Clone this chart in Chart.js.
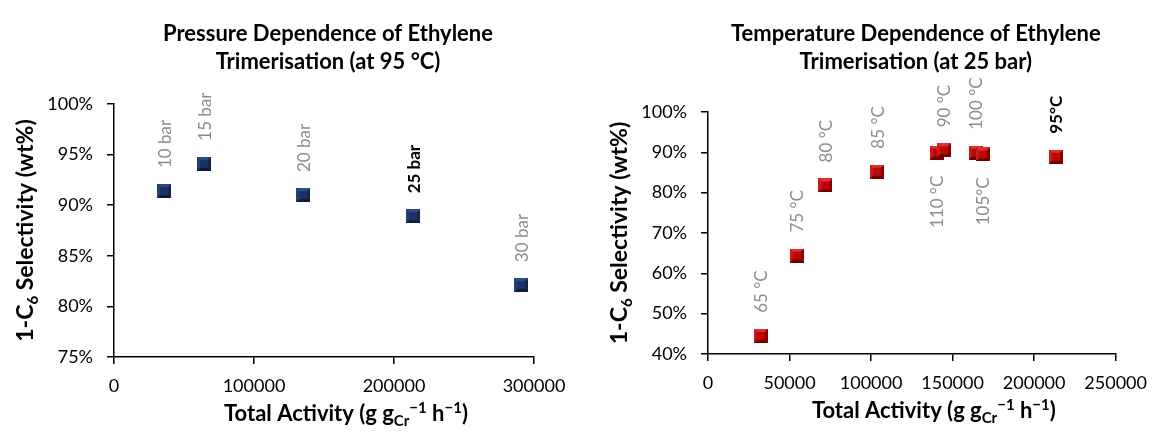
<!DOCTYPE html>
<html>
<head>
<meta charset="utf-8">
<script src="https://cdn.jsdelivr.net/npm/chart.js@4.4.1/dist/chart.umd.min.js"></script>
<style>
  html, body { margin: 0; padding: 0; background: #fff; }
  #wrap { position: relative; width: 1158px; height: 434px; }
  #wrap canvas { position: absolute; top: 0; }
  #pressure { left: 0; }
  #temperature { left: 579px; }
</style>
</head>
<body>
<div id="wrap">
  <canvas id="pressure" width="579" height="434"></canvas>
  <canvas id="temperature" width="579" height="434"></canvas>
</div>
<script>
// left chart: pressure series (95 °C)
const pressureLabels = ['10 bar', '15 bar', '20 bar', '25 bar', '30 bar'];
const pressureActivity = [35900, 64300, 135200, 213800, 291000];
const pressureSelectivity = [91.4, 94.1, 91.0, 88.9, 82.1];
const pressureBold = [false, false, false, true, false];
const pressureBelow = [false, false, false, false, false];

// right chart: temperature series (25 bar)
const tempLabels = ['65 °C', '75 °C', '80 °C', '85 °C', '110 °C', '90 °C', '100 °C', '105°C', '95°C'];
const tempActivity = [32400, 54400, 72000, 103800, 140400, 144600, 164200, 168600, 213400];
const tempSelectivity = [44.5, 64.4, 81.8, 85.2, 89.9, 90.5, 89.9, 89.5, 88.9];
const tempBold = [false, false, false, false, false, false, false, false, true];
const tempBelow = [false, false, false, false, true, false, false, true, false];

const FONT = 'Lato';

// square marker with a pyramid bevel, like the Excel one
function bevelSquare(c) {
    const s = 14, m = s / 2;
    const cv = document.createElement('canvas');
    cv.width = s; cv.height = s;
    const g = cv.getContext('2d');
    g.fillStyle = c.base;
    g.fillRect(0, 0, s, s);
    const tri = (ax, ay, bx, by, col) => {
        g.beginPath();
        g.moveTo(ax, ay); g.lineTo(bx, by); g.lineTo(m, m);
        g.closePath();
        g.fillStyle = col;
        g.fill();
    };
    tri(0, 0, s, 0, c.top);
    tri(0, 0, 0, s, c.left);
    tri(s, 0, s, s, c.right);
    tri(0, s, s, s, c.bottom);
    g.fillStyle = c.base;
    g.fillRect(3, 3, s - 6, s - 6);
    return cv;
}

const navyMarker = bevelSquare({base: '#1a3262', top: '#2d4c86', left: '#233f72', right: '#11244a', bottom: '#0c1b38'});
const redMarker = bevelSquare({base: '#b80808', top: '#e23030', left: '#cc1a1a', right: '#8a0000', bottom: '#6e0000'});

// rich text with sub / superscripts
function drawRich(ctx, parts, size) {
    const small = Math.round(size * 0.66);
    let w = 0;
    parts.forEach(p => {
        ctx.font = 'bold ' + (p.sub || p.sup ? small : size) + 'px ' + FONT;
        p.w = ctx.measureText(p.t).width;
        w += p.w;
    });
    let x = -w / 2;
    parts.forEach(p => {
        ctx.font = 'bold ' + (p.sub || p.sup ? small : size) + 'px ' + FONT;
        let dy = 0;
        if (p.sub) dy = size * 0.22;
        if (p.sup) dy = -size * 0.36;
        ctx.fillText(p.t, x, dy);
        x += p.w;
    });
}

const xTitleParts = [{t: 'Total Activity (g g'}, {t: 'Cr', sub: true}, {t: '\u22121', sup: true}, {t: ' h'}, {t: '\u22121', sup: true}, {t: ')'}];
const yTitleParts = [{t: '1-C'}, {t: '6', sub: true}, {t: ' Selectivity (wt%)'}];

const textPlugin = {
    id: 'texts',
    afterDraw(chart, args, opts) {
        const ctx = chart.ctx, a = chart.chartArea;
        const cx = (a.left + a.right) / 2;
        ctx.save();
        ctx.fillStyle = '#000';
        ctx.textBaseline = 'middle';
        ctx.textAlign = 'center';
        ctx.font = 'bold 22px ' + FONT;
        ctx.fillText(opts.title[0], cx + 4, 34);
        ctx.fillText(opts.title[1], cx + 4, 62);

        ctx.textAlign = 'left';
        ctx.textBaseline = 'alphabetic';
        ctx.save();
        ctx.translate(cx + 22, a.bottom + 64);
        drawRich(ctx, xTitleParts, 22);
        ctx.restore();

        ctx.save();
        ctx.translate(a.left - 81, (a.top + a.bottom) / 2);
        ctx.rotate(-Math.PI / 2);
        drawRich(ctx, yTitleParts, 23);
        ctx.restore();
        ctx.restore();
    }
};

const pointLabelPlugin = {
    id: 'pointLabels',
    afterDatasetsDraw(chart, args, opts) {
        const ctx = chart.ctx;
        chart.getDatasetMeta(0).data.forEach((pt, i) => {
            const below = opts.below[i];
            ctx.save();
            ctx.translate(pt.x + 1, pt.y + (below ? 23 : -23));
            ctx.rotate(-Math.PI / 2);
            ctx.font = (opts.bold[i] ? 'bold ' : '') + '17px ' + FONT;
            ctx.fillStyle = opts.bold[i] ? '#000' : '#8c8c8c';
            ctx.textAlign = below ? 'right' : 'left';
            ctx.textBaseline = 'middle';
            ctx.fillText(opts.labels[i], 0, 0);
            ctx.restore();
        });
    }
};

function makeChart(id, cfg) {
    const points = cfg.x.map((v, i) => ({x: v, y: cfg.y[i]}));
    const axisGrid = {drawOnChartArea: false, color: '#000', lineWidth: 1.5, tickLength: 7, tickWidth: 1.5};
    const tickFont = {family: FONT, size: 18};
    new Chart(document.getElementById(id), {
        type: 'scatter',
        data: {
            datasets: [{
                data: points,
                pointStyle: cfg.marker,
                pointRadius: 7,
                pointHoverRadius: 7
            }]
        },
        options: {
            responsive: false,
            animation: false,
            layout: {padding: cfg.padding},
            scales: {
                x: {
                    type: 'linear',
                    min: 0, max: cfg.xMax,
                    grid: axisGrid,
                    border: {color: '#000', width: 1.5},
                    ticks: {stepSize: cfg.xStep, color: '#000', font: tickFont, padding: 11, maxRotation: 0,
                        callback: v => String(v)},
                    afterFit: s => { s.height = cfg.xHeight; }
                },
                y: {
                    min: cfg.yMin, max: 100,
                    grid: axisGrid,
                    border: {color: '#000', width: 1.5},
                    ticks: {stepSize: cfg.yStep, color: '#000', font: tickFont, padding: 14,
                        callback: v => v + '%'},
                    afterFit: s => { s.width = cfg.yWidth; }
                }
            },
            plugins: {
                legend: {display: false},
                tooltip: {enabled: false},
                texts: {title: cfg.title},
                pointLabels: {labels: cfg.labels, bold: cfg.bold, below: cfg.below}
            }
        },
        plugins: [pointLabelPlugin, textPlugin]
    });
}

makeChart('pressure', {
    x: pressureActivity, y: pressureSelectivity,
    labels: pressureLabels, bold: pressureBold, below: pressureBelow,
    marker: navyMarker,
    xMax: 300000, xStep: 100000, yMin: 75, yStep: 5,
    padding: {top: 104, right: 45, bottom: 0, left: 0},
    xHeight: 77, yWidth: 114,
    title: ['Pressure Dependence of Ethylene', 'Trimerisation (at 95 \u00b0C)']
});

makeChart('temperature', {
    x: tempActivity, y: tempSelectivity,
    labels: tempLabels, bold: tempBold, below: tempBelow,
    marker: redMarker,
    xMax: 250000, xStep: 50000, yMin: 40, yStep: 10,
    padding: {top: 112, right: 34, bottom: 0, left: 0},
    xHeight: 80, yWidth: 129,
    title: ['Temperature Dependence of Ethylene', 'Trimerisation (at 25 bar)']
});
</script>
</body>
</html>
